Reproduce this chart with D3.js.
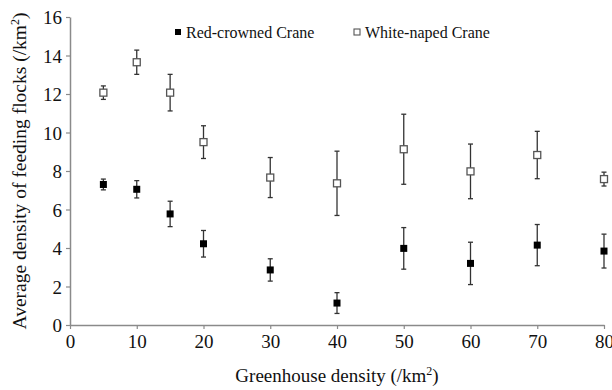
<!DOCTYPE html>
<html>
<head>
<meta charset="utf-8">
<script src="https://cdn.jsdelivr.net/npm/d3@7"></script>
<style>
  body { margin: 0; background: #fff; }
  svg text { font-family: "Liberation Serif", "Times New Roman", serif; fill: #111; }
</style>
</head>
<body>
<div class="chart"></div>
<script>
const width = 612;
const height = 390;
const margin = {top: 17, right: 8, bottom: 65, left: 70};

// greenhouse density (x)
const greenhouse = [5, 10, 15, 20, 30, 40, 50, 60, 70, 80];
// Red-crowned Crane: mean and error
const redMean = [7.3, 7.05, 5.77, 4.22, 2.86, 1.14, 3.98, 3.2, 4.15, 3.84];
const redErr  = [0.28, 0.45, 0.66, 0.69, 0.58, 0.54, 1.08, 1.1, 1.07, 0.88];
// White-naped Crane: mean and error
const whiteMean = [12.07, 13.65, 12.07, 9.5, 7.66, 7.36, 9.13, 7.98, 8.83, 7.58];
const whiteErr  = [0.35, 0.63, 0.95, 0.85, 1.04, 1.67, 1.82, 1.42, 1.23, 0.36];

const xTicks = [0, 10, 20, 30, 40, 50, 60, 70, 80];
const yTicks = [0, 2, 4, 6, 8, 10, 12, 14, 16];

const svg = d3.select(".chart").append("svg")
  .attr("width", width)
  .attr("height", height);

const xScale = d3.scaleLinear().domain([0, 80]).range([margin.left, width - margin.right]);
const yScale = d3.scaleLinear().domain([0, 16]).range([height - margin.bottom, margin.top]);

const axisColor = "#8a8a8a";

// axes
const xAxis = svg.append("g")
  .attr("transform", `translate(0, ${height - margin.bottom})`)
  .call(d3.axisBottom(xScale).tickValues(xTicks).tickSize(4).tickPadding(6).tickSizeOuter(0));
const yAxis = svg.append("g")
  .attr("transform", `translate(${margin.left}, 0)`)
  .call(d3.axisLeft(yScale).tickValues(yTicks).tickSize(4).tickPadding(4).tickSizeOuter(0));

[xAxis, yAxis].forEach(a => {
  a.select(".domain").attr("stroke", axisColor).attr("stroke-width", 1.5);
  a.selectAll(".tick line").attr("stroke", axisColor).attr("stroke-width", 1.2);
  a.selectAll(".tick text")
    .attr("fill", "#111")
    .style("font-family", '"Liberation Serif", "Times New Roman", serif')
    .style("font-size", "19px");
});
yAxis.selectAll(".tick text").attr("dy", "0.36em");

// axis titles
const xTitle = svg.append("text")
  .attr("x", (margin.left + width - margin.right) / 2)
  .attr("y", 382)
  .attr("text-anchor", "middle")
  .style("font-size", "19px");
xTitle.append("tspan").text("Greenhouse density (/km");
xTitle.append("tspan").attr("dy", -7).style("font-size", "12px").text("2");
xTitle.append("tspan").attr("dy", 7).text(")");

const yTitle = svg.append("text")
  .attr("transform", `translate(26, ${(margin.top + height - margin.bottom) / 2}) rotate(-90)`)
  .attr("text-anchor", "middle")
  .style("font-size", "19.5px");
yTitle.append("tspan").text("Average density of feeding flocks (/km");
yTitle.append("tspan").attr("dy", -7).style("font-size", "12px").text("2");
yTitle.append("tspan").attr("dy", 7).text(")");

// series
const series = [
  {name: "Red-crowned Crane", mean: redMean, err: redErr, fill: "#000", stroke: "#000"},
  {name: "White-naped Crane", mean: whiteMean, err: whiteErr, fill: "#fff", stroke: "#555"}
];

const errColor = "#333";
const cap = 2.5;
const msize = 7;

series.forEach(s => {
  const rows = greenhouse.map((x, i) => ({x: x, m: s.mean[i], e: s.err[i]}));
  const g = svg.append("g");
  const bars = g.selectAll(".err").data(rows).enter().append("g");
  bars.append("line")
    .attr("x1", d => xScale(d.x)).attr("x2", d => xScale(d.x))
    .attr("y1", d => yScale(d.m + d.e)).attr("y2", d => yScale(d.m - d.e))
    .attr("stroke", errColor).attr("stroke-width", 1.3);
  bars.append("line")
    .attr("x1", d => xScale(d.x) - cap).attr("x2", d => xScale(d.x) + cap)
    .attr("y1", d => yScale(d.m + d.e)).attr("y2", d => yScale(d.m + d.e))
    .attr("stroke", errColor).attr("stroke-width", 1.3);
  bars.append("line")
    .attr("x1", d => xScale(d.x) - cap).attr("x2", d => xScale(d.x) + cap)
    .attr("y1", d => yScale(d.m - d.e)).attr("y2", d => yScale(d.m - d.e))
    .attr("stroke", errColor).attr("stroke-width", 1.3);
  g.selectAll("rect").data(rows).enter().append("rect")
    .attr("x", d => xScale(d.x) - msize / 2)
    .attr("y", d => yScale(d.m) - msize / 2)
    .attr("width", msize).attr("height", msize)
    .attr("fill", s.fill)
    .attr("stroke", s.stroke)
    .attr("stroke-width", s.fill === "#000" ? 0 : 1.3);
});

// legend
const legendPos = [178, 357];
const legend = svg.append("g");
series.forEach((s, i) => {
  const lg = legend.append("g").attr("transform", `translate(${legendPos[i]}, 32)`);
  lg.append("rect")
    .attr("x", -3).attr("y", -3).attr("width", 6).attr("height", 6)
    .attr("fill", s.fill).attr("stroke", s.stroke)
    .attr("stroke-width", s.fill === "#000" ? 0 : 1.1);
  lg.append("text")
    .attr("x", 8).attr("y", 5.5)
    .style("font-size", "16px")
    .text(s.name);
});
</script>
</body>
</html>
